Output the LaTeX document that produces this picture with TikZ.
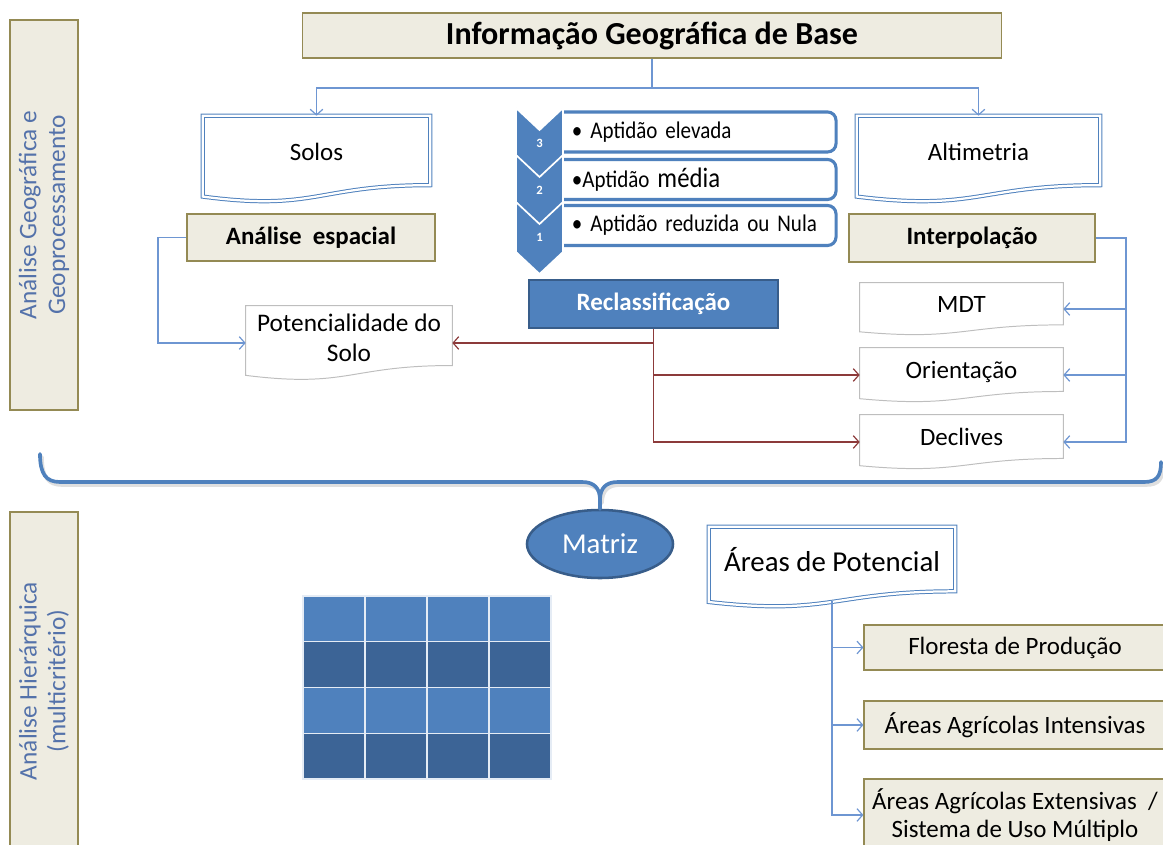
\documentclass[tikz,border=0pt]{standalone}
\usepackage{fontspec}
\setmainfont{Carlito}
\newfontfamily\narrowfont[FakeStretch=0.88]{Carlito}
\usetikzlibrary{arrows.meta, calc, shapes.geometric}
\definecolor{officeblue}{RGB}{79,129,189}
\definecolor{darkblue}{RGB}{56,93,138}
\definecolor{rowdark}{RGB}{60,100,150}
\definecolor{beige}{RGB}{238,236,225}
\definecolor{olive}{RGB}{148,138,84}
\definecolor{linkblue}{RGB}{110,150,210}
\definecolor{linkred}{RGB}{140,58,58}
\definecolor{panelblue}{RGB}{84,114,170}
\definecolor{docgray}{RGB}{190,190,190}

% outline of a "document" shape round a node
\newcommand{\docframe}[2][]{%
  \draw[#1] let \p1=(#2.north west), \p2=(#2.south east) in
    (\p1) -- (\x2,\y1) -- (\x2,{\y1+0.802*(\y2-\y1)})
    .. controls ({0.5*(\x1+\x2)},{\y1+0.802*(\y2-\y1)}) and ({0.5*(\x1+\x2)},{\y1+1.1075*(\y2-\y1)}) ..
    (\x1,{\y1+0.934*(\y2-\y1)}) -- cycle;}

\begin{document}
\begin{tikzpicture}[
  x=0.025cm, y=-0.025cm,
  base/.style={rectangle, draw=olive, fill=beige, line width=0.8pt, inner sep=2pt, align=center, font=\fontsize{17.75}{20.5}\selectfont},
  panel/.style={base, rotate=90, text=panelblue, minimum height=1.7cm, font=\fontsize{18}{20.5}\selectfont},
  docnode/.style={rectangle, inner sep=2pt, align=center, font=\fontsize{17.75}{20}\selectfont},
  bigdoc/.style={double=white, draw=officeblue, line width=0.7pt, double distance=1.6pt},
  thindoc/.style={draw=docgray, line width=0.7pt},
  listbox/.style={rectangle, rounded corners=6pt, draw=officeblue, fill=white, line width=2.2pt,
                  text width=6.2cm, inner xsep=0.4cm, minimum height=1cm, align=left, font=\narrowfont\fontsize{17}{19}\selectfont},
  chev/.style={fill=officeblue, draw=white, line width=1.2pt, line join=miter},
  chevnum/.style={text=white, font=\fontsize{9}{10}\selectfont\bfseries, inner sep=1pt},
  bluebox/.style={rectangle, draw=darkblue, fill=officeblue, line width=1.8pt, text=white, align=center},
  cell/.style={draw=white!85!officeblue, line width=0.9pt},
  link/.style={draw=linkblue, line width=0.85pt, -{Straight Barb[length=4pt,width=9pt]}},
  redlink/.style={draw=linkred, line width=0.85pt, -{Straight Barb[length=4pt,width=9pt]}},
  brace/.style={draw=officeblue, line width=2.6pt, line join=round, line cap=round}
]
\useasboundingbox (0,0) rectangle (1163,845);
\clip (0,0) rectangle (1163,845);

% side panels
\node[panel, minimum width=9.75cm] (panelgeo) at (44,215) {Análise Geográfica e\\Geoprocessamento};
\node[panel, minimum width=8.45cm] (panelahp) at (44,681) {Análise Hierárquica\\(multicritério)};

% base information
\node[base, minimum width=17.45cm, minimum height=1.125cm, font=\fontsize{22.8}{25}\selectfont\bfseries] (title) at (652,35.5) {Informação Geográfica de Base};

\node[docnode, minimum width=5.675cm, minimum height=2.15cm, text height=12.5pt, text depth=11pt] (solos) at (316.5,159) {Solos};
\node[docnode, minimum width=6.075cm, minimum height=2.15cm, text height=12.5pt, text depth=11pt] (alti) at (978.5,159) {Altimetria};
\docframe[bigdoc]{solos}
\docframe[bigdoc]{alti}

\coordinate (topbus) at (652,88);
\draw[link] (title.south) -- (topbus) -| (solos.north);
\draw[link] (topbus) -| (alti.north);

\node[base, minimum width=6.2cm, minimum height=1.175cm, font=\fontsize{17.75}{20}\selectfont\bfseries] (esp) at (311,237.5) {Análise\ \ espacial};
\node[base, minimum width=6.15cm, minimum height=1.2cm, font=\fontsize{17.75}{20}\selectfont\bfseries] (interp) at (972,238) {Interpolação};

% aptidao classes
\node[listbox] (apt3) at (696,132) {• Aptidão elevada};
\node[listbox] (apt2) at (696,179.5) {•Aptidão {\fontsize{20}{21}\selectfont média}};
\node[listbox] (apt1) at (696,225.5) {• Aptidão reduzida ou Nula};
\foreach \t/\n in {108/3,155/2,202/1}{
  \draw[chev] (516,\t) -- (539.5,\t+22) -- (563,\t) -- (563,\t+50) -- (539.5,\t+72) -- (516,\t+50) -- cycle;
  \node[chevnum] (num\n) at (539.5,\t+35) {\n};
}

\node[bluebox, minimum width=6.225cm, minimum height=1.2cm, font=\fontsize{17.75}{20}\selectfont\bfseries] (reclass) at (653.5,304) {Reclassificação};

\node[docnode, minimum width=5.15cm, minimum height=1.85cm, font=\fontsize{18}{21.3}\selectfont, text depth=8pt] (pot) at (349,343) {Potencialidade do\\Solo};
\docframe[thindoc]{pot}

\node[docnode, minimum width=5.075cm, minimum height=1.3cm, text height=12.5pt, text depth=8pt] (mdt) at (961.5,309) {MDT};
\node[docnode, minimum width=5.075cm, minimum height=1.35cm, text height=12.5pt, text depth=8pt] (orient) at (961.5,375) {Orientação};
\node[docnode, minimum width=5.075cm, minimum height=1.35cm, text height=12.5pt, text depth=8pt] (decl) at (961.5,442) {Declives};
\docframe[thindoc]{mdt}
\docframe[thindoc]{orient}
\docframe[thindoc]{decl}

\coordinate (espbus) at (158,237.5);
\draw[link] (esp.west) -- (espbus) |- (pot.west);
\coordinate (intbus) at (1126,238);
\draw[link] (interp.east) -- (intbus) |- (mdt.east);
\draw[link] (intbus) |- (orient.east);
\draw[link] (intbus) |- (decl.east);

\draw[redlink] (reclass.south) |- (pot.east);
\draw[redlink] (reclass.south) |- (orient.west);
\draw[redlink] (reclass.south) |- (decl.west);

% brace and matrix
\node[ellipse, draw=darkblue, fill=officeblue, line width=1.8pt, minimum width=3.65cm, minimum height=1.7cm,
      text=white, font=\fontsize{20.5}{22}\selectfont] (matriz) at (600,544) {Matriz};
\draw[brace, draw=black!25, opacity=0.5, shift={(2,3)}] (40,454) .. controls (40,474) and (46,482) .. (60,482) -- (582,482)
  .. controls (594,482) and (600,488) .. (600,500) .. controls (600,488) and (606,482) .. (618,482)
  -- (1144,482) .. controls (1157,482) and (1161,476) .. (1161,462);
\draw[brace] (40,454) .. controls (40,474) and (46,482) .. (60,482) -- (582,482)
  .. controls (594,482) and (600,488) .. (600,500) -- (matriz.north);
\draw[brace] (matriz.north) -- (600,500) .. controls (600,488) and (606,482) .. (618,482)
  -- (1144,482) .. controls (1157,482) and (1161,476) .. (1161,462);

\foreach \r/\col in {0/officeblue,1/rowdark,2/officeblue,3/rowdark}{
  \foreach \c in {0,...,3}{
    \draw[cell, fill=\col] (303+62*\c,596+45.75*\r) rectangle ++(62,45.75);
  }
}

% potential areas
\node[docnode, minimum width=6.15cm, minimum height=2cm, font=\fontsize{20.5}{22}\selectfont, text height=14.5pt, text depth=8.3pt] (apot) at (832,567) {Áreas de Potencial};
\docframe[bigdoc]{apot}

\node[base, minimum width=7.55cm, minimum height=1.125cm] (flor) at (1015,647.5) {Floresta de Produção};
\node[base, minimum width=7.55cm, minimum height=1.2cm] (intens) at (1015,725) {Áreas Agrícolas Intensivas};
\node[base, minimum width=7.55cm, minimum height=1.8cm] (extens) at (1015,815) {Áreas Agrícolas Extensivas\ \ /\\Sistema de Uso Múltiplo};

\coordinate (apbus) at (832,601);
\draw[link] (apbus) |- (flor.west);
\draw[link] (apbus) |- (intens.west);
\draw[link] (apbus) |- (extens.west);
\end{tikzpicture}
\end{document}
